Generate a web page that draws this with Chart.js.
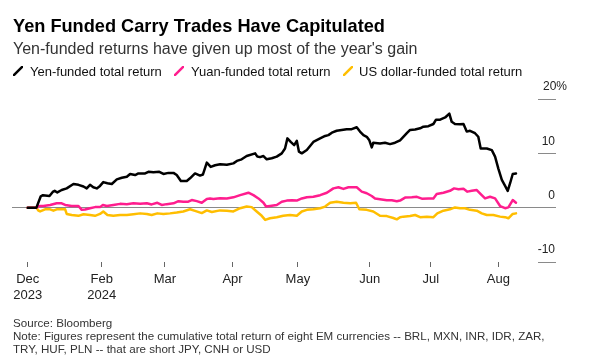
<!DOCTYPE html>
<html>
<head>
<meta charset="utf-8">
<script src="https://cdn.jsdelivr.net/npm/chart.js@4.4.1/dist/chart.umd.min.js"></script>
<style>
  body { margin: 0; background: #fff; font-family: "Liberation Sans", Arial, sans-serif; }
  #wrap { position: relative; width: 591px; height: 364px; overflow: hidden; }
  #chart { position: absolute; left: 0; top: 0; }
  .title { position: absolute; left: 13px; top: 17px; font-size: 18.2px; line-height: 18px; font-weight: bold; color: #000; white-space: nowrap; }
  .subtitle { position: absolute; left: 13px; top: 41px; font-size: 16px; line-height: 16px; color: #333; white-space: nowrap; }
  .legend span { position: absolute; top: 65px; font-size: 13px; line-height: 13px; color: #111; white-space: nowrap; }
  .legend svg { position: absolute; top: 66px; }
  .notes { position: absolute; left: 13px; top: 316px; font-size: 11.6px; line-height: 13px; color: #333; white-space: nowrap; }
</style>
</head>
<body>
<div id="wrap">
  <canvas id="chart" width="591" height="364"></canvas>
  <div class="title">Yen Funded Carry Trades Have Capitulated</div>
  <div class="subtitle">Yen-funded returns have given up most of the year's gain</div>
  <div class="legend">
    <svg style="left:13px" width="10" height="10"><line x1="0" y1="10" x2="10" y2="0" stroke="#000" stroke-width="2.5"/></svg>
    <span style="left:30px">Yen-funded total return</span>
    <svg style="left:174px" width="10" height="10"><line x1="0" y1="10" x2="10" y2="0" stroke="#ff1d8e" stroke-width="2.5"/></svg>
    <span style="left:191px">Yuan-funded total return</span>
    <svg style="left:343px" width="10" height="10"><line x1="0" y1="10" x2="10" y2="0" stroke="#ffbe00" stroke-width="2.5"/></svg>
    <span style="left:359px">US dollar-funded total return</span>
  </div>
  <div class="notes">Source: Bloomberg<br>Note: Figures represent the cumulative total return of eight EM currencies -- BRL, MXN, INR, IDR, ZAR,<br>TRY, HUF, PLN -- that are short JPY, CNH or USD</div>
</div>

<script>
// dias contados desde el 1 de enero de 2024
const tickDays = [-3, 31, 60, 91, 121, 154, 182, 213];
const tickLabels = [['Dec', '2023'], ['Feb', '2024'], 'Mar', 'Apr', 'May', 'Jun', 'Jul', 'Aug'];
const yTicks = [-10, 0, 10, 20];
const yLabels = ['-10\u2003', '0\u2003', '10\u2003', '20%'];

// === Yen ===
const yenDays = [-3, 1, 3, 4, 7, 8.5, 9.4, 10.6, 12.6, 14.9, 18, 20.3, 22.6, 24.1, 25.6, 27.1, 28.7, 30.2, 31.7, 33.6,
  35.6, 37.9, 40.2, 42.5, 44, 46.3, 47.8, 50.9, 52.4, 54.7, 57.4, 59.3, 61.6, 63.9, 65.4, 67.3, 70, 71.5, 73.8, 76.1,
  77.4, 79.2, 81, 83, 85.3, 88.4, 91.4, 93, 95.2, 97.5, 101.4, 102.4, 103.6, 105.2, 106.7, 109, 111.3, 113.6, 115.1, 116.2,
  117.7, 119.3, 120.5, 121.5, 122.8, 125.1, 128.1, 131.2, 133.5, 135, 136.6, 138.8, 141.1, 143.4, 145.7, 148, 149.5, 151.1, 152.6, 153.8,
  154.9, 155.6, 158.7, 161, 163.3, 165.6, 167.9, 171, 172.5, 174.8, 177.1, 178.6, 180.9, 183.2, 184.4, 186.3, 188.6, 190.5, 191.6, 193.1,
  195.4, 197, 198.5, 200, 202.3, 203.8, 204.9, 207.7, 210, 211.5, 213, 214.6, 216.1, 217.3, 218.4, 219.6, 221.1];
const yenReturn = [0, 0, 2.1, 2.3, 2.15, 2.9, 3.1, 2.8, 3.25, 3.55, 4.35, 4.2, 3.9, 3.55, 4.2, 3.75, 3.55, 4.0, 4.7, 4.5,
  4.35, 5.2, 5.5, 5.7, 6.2, 6.0, 6.3, 6.3, 6.6, 6.5, 6.6, 6.2, 6.4, 6.4, 6.0, 4.9, 4.9, 5.4, 6.3, 5.9,
  6.1, 8.3, 7.5, 7.8, 8.0, 7.9, 8.15, 8.6, 8.9, 9.5, 10.0, 9.4, 9.3, 9.5, 8.9, 9.1, 9.4, 10.0, 10.9, 12.75,
  12.1, 11.5, 12.3, 10.3, 10.0, 10.6, 12.1, 12.75, 13.2, 13.35, 13.8, 14.15, 14.3, 14.45, 14.45, 14.8, 14.0, 13.35, 13.05, 12.4,
  11.1, 11.95, 11.8, 11.95, 11.7, 11.95, 12.4, 13.7, 14.3, 14.4, 14.6, 14.9, 15.0, 15.4, 16.2, 16.2, 16.6, 17.3, 15.8, 15.4,
  15.35, 15.4, 14.0, 14.15, 13.7, 13.05, 10.9, 10.9, 10.6, 9.4, 7.2, 5.1, 4.0, 3.1, 4.5, 6.2, 6.3];

// === Yuan ===
const yuanDays = [-3, 1.2, 1.9, 4.2, 7.3, 10.3, 12.6, 14.2, 17.2, 20.3, 21.8, 23.3, 25.6, 27.9, 30.2, 31.5, 33.3, 36.3, 39.4, 42.5,
  45.5, 48.6, 51.7, 53.9, 56.5, 58.5, 60.8, 63.9, 66.2, 68.4, 70.7, 72.3, 74.6, 76.9, 79.2, 80.7, 82.2, 85.3, 88.4, 91.4,
  94.5, 98.3, 100.6, 102.9, 105.2, 106.4, 108.2, 111.3, 113.6, 115.9, 118.2, 120.5, 122.8, 125.1, 128.1, 131.2, 134.3, 137.3, 139.6, 141.9,
  144.2, 146.5, 148, 150.3, 152.6, 154.9, 156.4, 158.7, 161.8, 164.1, 166.4, 167.9, 170.2, 173.3, 175.6, 177.9, 180.9, 183.2, 184.7, 187.8,
  190.8, 192.7, 194.7, 197, 198.8, 200.8, 203.1, 204.9, 206.9, 209.2, 211.5, 213.8, 216.1, 217.6, 219.6, 221.1];
const yuanReturn = [0, 0, 0.3, 0.3, 0.5, 0.8, 0.8, 0.5, 0.3, 0.3, -0.4, -0.35, -0.1, 0.1, 0.1, 0.5, 0.3, 0.5, 0.7, 0.65,
  0.8, 0.7, 0.8, 0.6, 0.9, 0.5, 0.65, 0.8, 1.2, 1.1, 1.1, 1.4, 1.2, 0.9, 1.6, 1.7, 1.6, 1.75, 1.7, 1.9,
  2.3, 2.75, 2.3, 1.7, 0.9, 0.2, 0.3, 0.5, 1.1, 1.3, 1.35, 1.3, 1.7, 1.9, 2.0, 2.3, 2.75, 3.55, 3.75, 3.45,
  3.75, 3.75, 3.75, 2.95, 2.65, 2.15, 1.7, 1.55, 1.35, 1.35, 1.2, 1.3, 1.85, 1.9, 2.0, 1.65, 1.7, 1.7, 2.5, 2.75,
  3.1, 3.55, 3.4, 3.5, 2.95, 3.1, 3.25, 2.5, 1.7, 2.0, 1.7, 0.3, -0.1, 0.05, 1.4, 0.9];

// === Dolar ===
const usdDays = [-3, 1, 2, 2.7, 5, 7.3, 8.8, 10.3, 14.2, 14.9, 17.2, 20.3, 22.6, 25.6, 27.9, 30.2, 31.7, 33.6, 36.3, 39.4,
  42.5, 45.5, 48.6, 51.7, 53.9, 56.5, 59.3, 62.3, 65.4, 68.4, 71.5, 73.8, 76.9, 79.2, 81.5, 85.3, 88.4, 91.4, 94.5, 97.5,
  99.8, 102.1, 104.4, 106, 108.2, 111.3, 114.3, 117.4, 120.5, 122.8, 125.1, 128.1, 131.2, 133.5, 135.8, 138.8, 141.9, 145, 147.7, 149.2,
  152.6, 155.6, 158.7, 161.8, 164.8, 166.4, 167.9, 169.4, 172.5, 174.8, 177.1, 180.2, 183.2, 185, 187.8, 190.8, 193.1, 195.4, 197.7, 200,
  203.1, 205.4, 207.7, 210.7, 213.8, 216.1, 217.6, 219.6, 221.1];
const usdReturn = [0, 0, -0.55, -0.7, -0.3, -0.3, -0.55, -0.3, -0.3, -1.15, -1.35, -1.5, -1.2, -1.35, -1.5, -1.15, -0.7, -1.35, -1.5, -1.35,
  -1.35, -1.2, -1.05, -1.15, -1.35, -1.05, -1.15, -1.05, -0.9, -0.7, -0.3, -0.6, -1.0, -0.5, -0.8, -0.5, -0.55, -0.7, -0.1, 0.2,
  0.1, -0.7, -1.5, -2.25, -1.95, -1.75, -1.5, -1.35, -1.5, -0.7, -0.4, -0.3, -0.1, 0.2, 0.9, 1.1, 0.9, 0.8, 0.9, -0.3,
  -0.4, -0.7, -1.5, -1.55, -1.9, -2.15, -1.75, -1.65, -1.55, -1.35, -1.75, -1.65, -1.75, -1.05, -0.55, -0.3, 0.05, -0.1, -0.1, -0.4,
  -0.55, -1.05, -1.35, -1.35, -1.65, -1.75, -1.95, -1.15, -1.05];

function toPoints(days, values) {
  return days.map((d, i) => ({ x: d, y: values[i] }));
}

const fontFamily = '"Liberation Sans", Arial, sans-serif';

new Chart(document.getElementById('chart'), {
  type: 'line',
  data: {
    datasets: [
      { label: 'Yen-funded total return', data: toPoints(yenDays, yenReturn), borderColor: '#000000', borderWidth: 2.5 },
      { label: 'Yuan-funded total return', data: toPoints(yuanDays, yuanReturn), borderColor: '#ff1d8e', borderWidth: 2.5 },
      { label: 'US dollar-funded total return', data: toPoints(usdDays, usdReturn), borderColor: '#ffbe00', borderWidth: 2.5 }
    ]
  },
  options: {
    responsive: false,
    animation: false,
    elements: {
      point: { radius: 0 },
      line: { tension: 0, borderJoinStyle: 'round', borderCapStyle: 'round' }
    },
    layout: { padding: { left: 12, top: 99, right: 24, bottom: 62 } },
    plugins: { legend: { display: false }, tooltip: { enabled: false } },
    scales: {
      x: {
        type: 'linear',
        min: -10.2,
        max: 231.2,
        bounds: 'data',
        afterBuildTicks: (s) => { s.ticks = tickDays.map((v) => ({ value: v })); },
        afterFit: (s) => { s.height = 40; },
        grid: { drawOnChartArea: false, drawTicks: true, tickLength: 5, tickColor: '#666', tickWidth: 1 },
        border: { display: false },
        ticks: {
          autoSkip: false,
          maxRotation: 0,
          padding: 5,
          color: '#222',
          font: { family: fontFamily, size: 13, lineHeight: 1.2 },
          callback: (v, i) => tickLabels[i]
        }
      },
      y: {
        position: 'right',
        min: -10,
        max: 20,
        afterBuildTicks: (s) => { s.ticks = yTicks.map((v) => ({ value: v })); },
        afterFit: (s) => { s.width = 29; },
        grid: {
          color: (c) => (c.tick && c.tick.value === 0 ? '#8a8a8a' : 'rgba(0,0,0,0)'),
          tickColor: '#8a8a8a',
          tickLength: 18,
          lineWidth: 1
        },
        border: { display: false },
        ticks: {
          crossAlign: 'far',
          labelOffset: -12,
          padding: 0,
          color: '#222',
          font: { family: fontFamily, size: 12 },
          callback: (v, i) => yLabels[i]
        }
      }
    }
  }
});
</script>
</body>
</html>
